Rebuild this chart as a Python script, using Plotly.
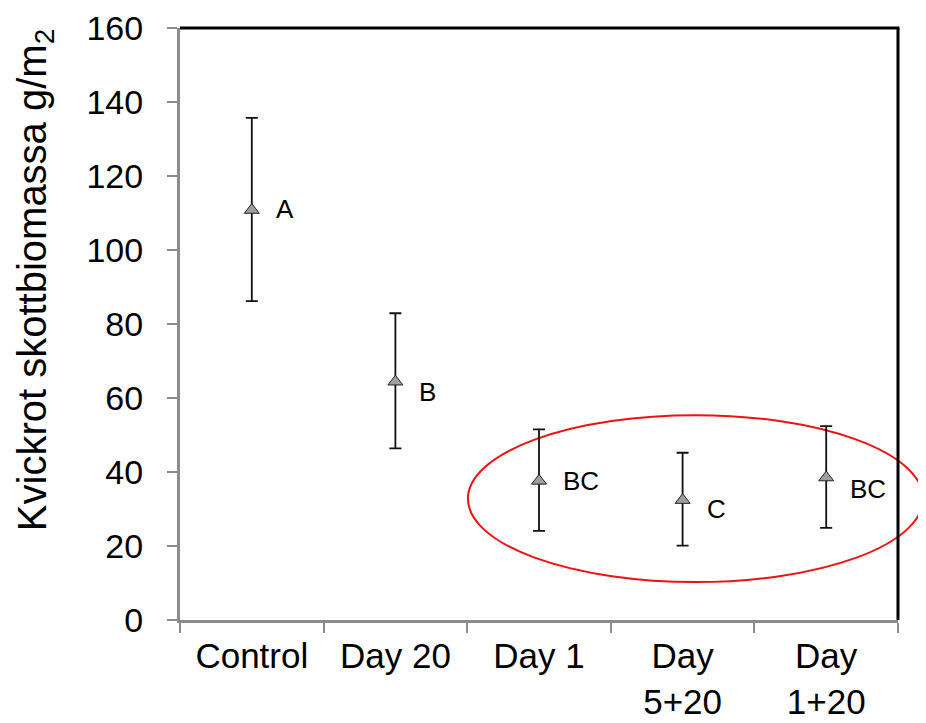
import plotly.graph_objects as go

categories = ["Control", "Day 20", "Day 1", "Day<br>5+20", "Day<br>1+20"]
means = [110.8, 64.4, 37.6, 32.4, 38.5]
upper = [135.7, 82.9, 51.5, 45.2, 52.4]
lower = [86.2, 46.4, 24.1, 20.1, 24.9]
letters = ["A", "B", "BC", "C", "BC"]
letter_y = [111.1, 61.5, 37.6, 30.0, 35.4]

err_plus = [u - m for u, m in zip(upper, means)]
err_minus = [m - l for m, l in zip(means, lower)]

FONT = "Liberation Sans, Arial, sans-serif"
GRAY = "#8c8c8c"

fig = go.Figure()
fig.add_trace(go.Scatter(
    x=categories, y=means, mode="markers",
    marker=dict(symbol="triangle-up", size=13, color="#9e9e9e",
                line=dict(color="#222222", width=1)),
    error_y=dict(type="data", symmetric=False, array=err_plus, arrayminus=err_minus,
                 color="#111111", thickness=1.8, width=6),
    showlegend=False, cliponaxis=False,
))

for c, t, ly in zip(categories, letters, letter_y):
    fig.add_annotation(x=c, y=ly, text=t, showarrow=False, xanchor="left",
                       xshift=22, font=dict(family=FONT, size=26, color="black"))

fig.add_annotation(xref="paper", yref="paper", x=-0.202, y=0.574,
                   xanchor="center", yanchor="middle",
                   text="Kvickrot skottbiomassa g/m<sub>2</sub>", textangle=-90,
                   showarrow=False, font=dict(family=FONT, size=40, color="black"))

# red ellipse highlighting the three treatments
fig.add_shape(type="circle", xref="paper", yref="paper",
              x0=0.401, x1=1.035, y0=0.064, y1=0.346,
              line=dict(color="#ee1111", width=2), layer="below")

# black top/right frame
fig.add_shape(type="line", xref="paper", yref="paper", x0=0, x1=1.002, y0=1, y1=1,
              line=dict(color="black", width=3))
fig.add_shape(type="line", xref="paper", yref="paper", x0=1, x1=1, y0=0, y1=1,
              line=dict(color="black", width=3))

fig.update_layout(
    width=918, height=715,
    margin=dict(l=172, r=28, t=20, b=103),
    paper_bgcolor="white", plot_bgcolor="white",
    font=dict(family=FONT, color="black"),
    xaxis=dict(type="category", range=[-0.5, 4.5], tickson="boundaries",
               ticks="outside", ticklen=10, tickwidth=2, tickcolor=GRAY,
               showline=True, linecolor=GRAY, linewidth=3,
               showgrid=False, zeroline=False, automargin=False,
               tickfont=dict(family=FONT, size=35, color="black"),
               ticklabelstandoff=3),
    yaxis=dict(range=[0, 160], dtick=20, tick0=0,
               ticks="outside", ticklen=10, tickwidth=2, tickcolor=GRAY,
               showline=True, linecolor=GRAY, linewidth=3,
               showgrid=False, zeroline=False, automargin=False,
               tickfont=dict(family=FONT, size=34, color="black"),
               ticklabelstandoff=17),
)

fig.write_html("out.html")
